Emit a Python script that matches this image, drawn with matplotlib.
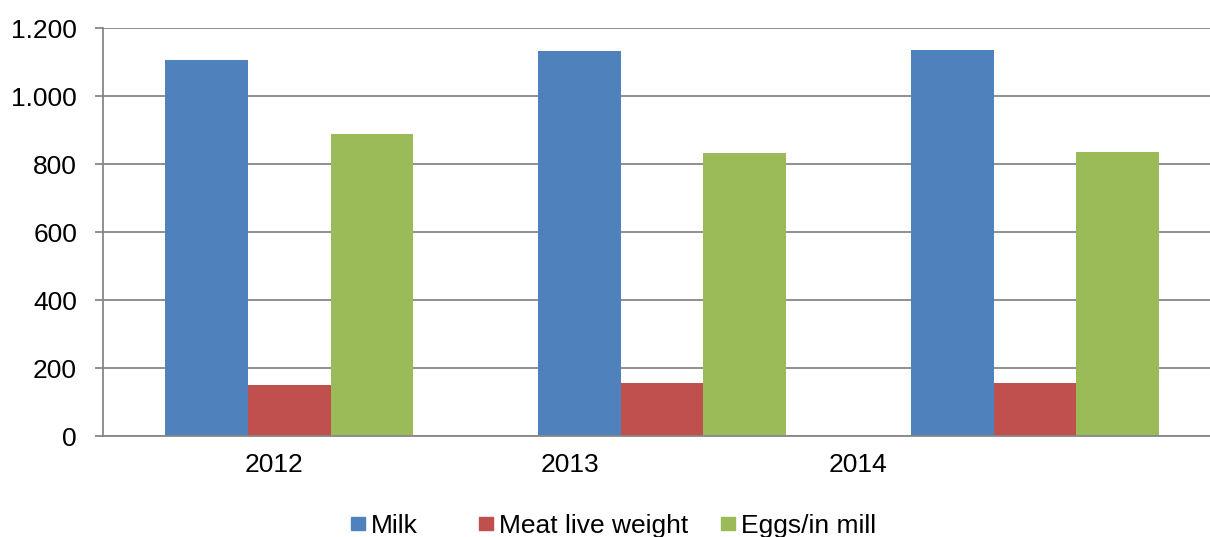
import matplotlib
matplotlib.use("Agg")

import matplotlib.pyplot as plt
from matplotlib.patches import Rectangle
import numpy as np

plt.rcParams["font.family"] = ["Liberation Sans", "DejaVu Sans"]

# ── data ──
years = ["2012", "2013", "2014"]
milk = [1105, 1133, 1134]
meat = [150, 155, 155]
eggs = [888, 832, 835]
series_names = ["Milk", "Meat live weight", "Eggs/in mill"]
colors = ["#4F81BD", "#C0504D", "#9BBB59"]
y_ticks = [0, 200, 400, 600, 800, 1000, 1200]
y_tick_labels = ["0", "200", "400", "600", "800", "1.000", "1.200"]

# category labels sit off-centre in the source chart
label_pos = [-0.042, 0.753, 1.525]

W, H = 1210, 537
FS = 19.0
GRID = "#878787"

fig = plt.figure(figsize=(W / 100, H / 100), dpi=100)
fig.patch.set_facecolor("white")
ax = fig.add_axes([102.7 / W, 101 / H, 1 - 102.7 / W, 408 / H])

x = np.arange(len(years))
bw = 0.2217
for i, (vals, c) in enumerate(zip([milk, meat, eggs], colors)):
    ax.bar(x + (i - 1) * bw, vals, width=bw, color=c, zorder=3)

ax.set_xlim(-0.5, 2.469)
ax.set_ylim(0, 1200)
ax.set_yticks(y_ticks)
ax.set_yticklabels(y_tick_labels, fontsize=FS)
ax.set_xticks(label_pos)
ax.set_xticklabels(years, fontsize=FS)
ax.tick_params(axis="x", length=0, pad=12)
ax.tick_params(axis="y", length=6, width=1.3, color=GRID, pad=12.5)

ax.grid(axis="y", color=GRID, linewidth=1.3, zorder=0)
for s in ("top", "right"):
    ax.spines[s].set_visible(False)
for s in ("left", "bottom"):
    ax.spines[s].set_color(GRID)
    ax.spines[s].set_linewidth(1.3)
ax.spines["bottom"].set_zorder(4)

# ── legend (hand placed, like the Excel original) ──
leg_x = [351, 479, 721]
for lx, name, c in zip(leg_x, series_names, colors):
    fig.add_artist(Rectangle((lx / W, (H - 530) / H), 14 / W, 13 / H,
                             color=c, transform=fig.transFigure))
    fig.text((lx + 20) / W, (H - 533) / H, name, fontsize=FS,
             va="baseline", ha="left")

fig.savefig("out.png", dpi=100, facecolor="white")
